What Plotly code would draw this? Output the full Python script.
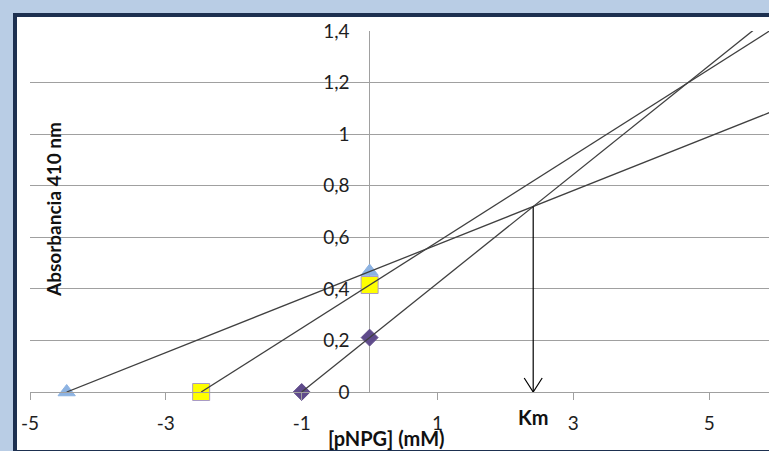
import plotly.graph_objects as go

# ---- data ----
series_names = ["A", "B", "C"]
substrate = [4.46, 2.48, 1.0]          # [pNPG] plotted as -S on x axis
absorb = [0.467, 0.415, 0.211]          # absorbance plotted on y axis at x=0
marker_symbols = ["triangle-up", "square", "diamond"]
marker_colors = ["#8db3e2", "#ffff00", "#5f4b8b"]
marker_lines = ["#8db3e2", "#a99bc4", "#5f4b8b"]
marker_sizes = [15, 17, 13]

x_ticks = [-5, -3, -1, 1, 3, 5]
x_tick_text = ["-5", "-3", "-1", "1", "3", "5"]
y_ticks = [0, 0.2, 0.4, 0.6, 0.8, 1.0, 1.2, 1.4]
y_tick_text = ["0", "0,2", "0,4", "0,6", "0,8", "1", "1,2", "1,4"]

# ---- layout geometry ----
W, H = 769, 451
ML, MR, MT, MB = 30, 0, 31, 59
XMIN, XMAX = -5, 5.88
YMIN, YMAX = 0, 1.4
PW, PH = W - ML - MR, H - MT - MB


def px_x(px):
    return (px - ML) / PW


def px_y(py):
    return (H - MB - py) / PH


fig = go.Figure()

# markers
for s, v, sym, col, lc, sz in zip(substrate, absorb, marker_symbols,
                                 marker_colors, marker_lines, marker_sizes):
    fig.add_trace(go.Scatter(
        x=[-s, 0], y=[0, v], mode="markers",
        marker=dict(symbol=sym, color=col, size=sz, line=dict(color=lc, width=1)),
        showlegend=False, cliponaxis=False, hoverinfo="skip"))

# lines through (-S,0) and (0,v), extended past the plot
x_end = 8
for s, v in zip(substrate, absorb):
    fig.add_trace(go.Scatter(
        x=[-s, x_end], y=[0, v * (1 + x_end / s)], mode="lines",
        line=dict(color="#404040", width=1.3),
        showlegend=False, hoverinfo="skip"))

# intersection of first and last lines -> Km, Vmax
s1, v1 = substrate[0], absorb[0]
s3, v3 = substrate[2], absorb[2]
km = (v3 - v1) / (v1 / s1 - v3 / s3)
vmax = v1 * (1 + km / s1)

fig.add_trace(go.Scatter(
    x=[km, km], y=[vmax, 0], mode="lines",
    line=dict(color="#000000", width=1.2),
    showlegend=False, hoverinfo="skip"))

shapes = [
    # white chart area with navy border
    dict(type="rect", xref="paper", yref="paper",
         x0=px_x(15), x1=px_x(800), y0=px_y(15), y1=px_y(452),
         fillcolor="white", line=dict(color="#1d3050", width=4), layer="below"),
    # open arrow head
    dict(type="path", xref="x", yref="y", xsizemode="pixel", ysizemode="pixel",
         xanchor=km, yanchor=0, path="M -9,14 L 0,0 L 9,14",
         line=dict(color="#000000", width=1.2)),
]

font_fam = "Lato, 'Open Sans', sans-serif"
annotations = [
    dict(text="<b>[pNPG] (mM)</b>", xref="paper", yref="paper",
         x=px_x(386), y=px_y(438), showarrow=False,
         font=dict(family=font_fam, size=20, color="#111111"),
         xanchor="center", yanchor="middle"),
    dict(text="<b>Absorbancia 410 nm</b>", xref="paper", yref="paper",
         x=px_x(53), y=px_y(210), showarrow=False, textangle=-90,
         font=dict(family=font_fam, size=19, color="#111111"),
         xanchor="center", yanchor="middle"),
    dict(text="<b>Km</b>", xref="x", yref="paper",
         x=km, y=px_y(417), showarrow=False,
         font=dict(family=font_fam, size=20, color="#111111"),
         xanchor="center", yanchor="middle"),
]

fig.update_layout(
    width=W, height=H,
    margin=dict(l=ML, r=MR, t=MT, b=MB, pad=0),
    paper_bgcolor="#b9cde5", plot_bgcolor="rgba(0,0,0,0)",
    separators=",.",
    shapes=shapes, annotations=annotations,
    font=dict(family=font_fam, size=19, color="#1e1e1e"),
    xaxis=dict(range=[XMIN, XMAX], tickvals=x_ticks, ticktext=x_tick_text,
               showgrid=False,
               showline=True, linecolor="#a0a0a0", linewidth=1,
               ticks="outside", ticklen=7, tickcolor="#a0a0a0",
               zeroline=True, zerolinecolor="#a0a0a0", zerolinewidth=1,
               ticklabelstandoff=7, fixedrange=True),
    yaxis=dict(range=[YMIN, YMAX], tickvals=y_ticks, ticktext=y_tick_text,
               showgrid=True, gridcolor="#a0a0a0", gridwidth=1.2,
               showline=False, zeroline=False, ticks="",
               anchor="free", position=(0 - XMIN) / (XMAX - XMIN),
               ticklabelstandoff=20, fixedrange=True),
)

fig.write_html("out.html")
